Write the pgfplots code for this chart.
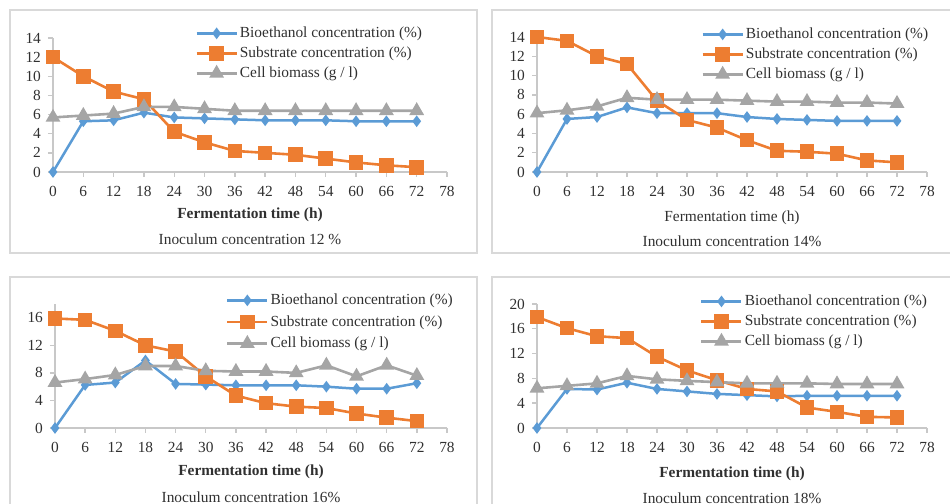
\documentclass[border=0pt]{standalone}
\usepackage{fontspec}
\setmainfont{Liberation Serif}
\usepackage{pgfplots}
\usepackage{pgfplotstable}
\pgfplotsset{compat=1.18}
\definecolor{cblue}{HTML}{5B9BD5}
\definecolor{corange}{HTML}{ED7D31}
\definecolor{cgray}{HTML}{A5A5A5}
\definecolor{axgray}{HTML}{C8C8C8}
\definecolor{frgray}{HTML}{D9D9D9}
\definecolor{txt}{HTML}{303030}

\pgfplotstableread{
t bio sub cell
0 0 12.0 5.7
6 5.3 10.0 5.9
12 5.4 8.4 6.1
18 6.2 7.6 6.8
24 5.7 4.2 6.8
30 5.6 3.1 6.6
36 5.5 2.2 6.4
42 5.4 2.0 6.4
48 5.4 1.8 6.4
54 5.4 1.4 6.4
60 5.3 1.0 6.4
66 5.3 0.7 6.4
72 5.3 0.5 6.4
}\tabA
\pgfplotstableread{
t bio sub cell
0 0 14.0 6.1
6 5.5 13.6 6.4
12 5.7 12.0 6.8
18 6.7 11.2 7.7
24 6.1 7.4 7.5
30 6.1 5.4 7.5
36 6.1 4.6 7.5
42 5.7 3.3 7.4
48 5.5 2.2 7.3
54 5.4 2.1 7.3
60 5.3 1.9 7.2
66 5.3 1.2 7.2
72 5.3 1.0 7.1
}\tabB
\pgfplotstableread{
t bio sub cell
0 0 15.9 6.6
6 6.25 15.7 7.1
12 6.6 14.1 7.7
18 9.8 12.0 9.0
24 6.4 11.1 9.0
30 6.3 7.5 8.3
36 6.2 4.7 8.2
42 6.2 3.6 8.2
48 6.2 3.1 8.0
54 6.0 2.9 9.1
60 5.7 2.1 7.5
66 5.7 1.5 9.1
72 6.5 1.0 7.6
}\tabC
\pgfplotstableread{
t bio sub cell
0 0 17.9 6.4
6 6.3 16.1 6.8
12 6.2 14.8 7.2
18 7.3 14.5 8.4
24 6.3 11.5 7.85
30 5.9 9.3 7.6
36 5.5 7.7 7.4
42 5.3 6.3 7.2
48 5.1 5.9 7.2
54 5.2 3.3 7.2
60 5.2 2.6 7.1
66 5.2 1.8 7.1
72 5.2 1.7 7.1
}\tabD

\newcommand{\fs}{\fontsize{7.7}{9}\selectfont}

\pgfplotsset{
 panel/.style={
  scale only axis, clip=false,
  axis lines=left, axis line style={axgray, line width=0.7pt, -},
  xmin=0, xmax=78, ymin=0,
  xtick={0,6,...,78},
  tick style={axgray, line width=0.7pt}, major tick length=2.5pt, tick align=outside,
  tick label style={font=\fs, text=txt},
  xticklabel style={yshift=-1pt},
  /pgf/number format/assume math mode=true,
  legend style={draw=none, fill=none, font=\fs, text=txt, anchor=north west,
    nodes={text height=6pt, text depth=2pt, inner sep=1pt}},
  legend cell align=left,
  legend image code/.code={\draw[mark repeat=2,mark phase=2,##1] plot coordinates {(0pt,0pt) (10pt,0pt) (20pt,0pt)};},
 },
 bio/.style={cblue, line width=1.25pt, mark=diamond*, mark size=1.9pt, mark options={solid}},
 sub/.style={corange, line width=1.3pt, mark=square*, mark size=3pt, mark options={solid}},
 cell/.style={cgray, line width=1.3pt, mark=triangle*, mark size=3pt, mark options={solid}},
}

\begin{document}
\begin{tikzpicture}[x=1pt,y=1pt]
\useasboundingbox (0,0) rectangle (475,252);
\clip (0,0) rectangle (475,252);
% frames
\draw[frgray, line width=0.9pt] (5,247) rectangle (238.5,125.5);
\draw[frgray, line width=0.9pt] (246,247) rectangle (480,125.5);
\draw[frgray, line width=0.9pt] (5,113.5) rectangle (238.5,-8);
\draw[frgray, line width=0.9pt] (246,113.5) rectangle (480,-8);

% Panel 1
\begin{axis}[panel, at={(26.5pt,166pt)}, anchor=south west, width=197pt, height=67pt,
  ymax=14, ytick={0,2,...,14},
  legend style={at={(0.345,1.142)}}]
\addplot[bio] table[x=t,y=bio] {\tabA};
\addplot[sub] table[x=t,y=sub] {\tabA};
\addplot[cell] table[x=t,y=cell] {\tabA};
\legend{Bioethanol concentration (\%), Substrate concentration (\%), Cell biomass (g / l)}
\node[font=\fs\bfseries, text=txt] at (rel axis cs:0.5,0) [yshift=-21.5pt] {Fermentation time (h)};
\node[font=\fs, text=txt] at (rel axis cs:0.5,0) [yshift=-33.5pt] {Inoculum concentration 12 \%};
\end{axis}

% Panel 2
\begin{axis}[panel, at={(268.5pt,166pt)}, anchor=south west, width=195pt, height=67.5pt,
  ymax=14, ytick={0,2,...,14},
  legend style={at={(0.405,1.126)}}]
\addplot[bio] table[x=t,y=bio] {\tabB};
\addplot[sub] table[x=t,y=sub] {\tabB};
\addplot[cell] table[x=t,y=cell] {\tabB};
\legend{Bioethanol concentration (\%), Substrate concentration (\%), Cell biomass (g / l)}
\node[font=\fs, text=txt] at (rel axis cs:0.5,0) [yshift=-23pt] {Fermentation time (h)};
\node[font=\fs, text=txt] at (rel axis cs:0.5,0) [yshift=-34.5pt] {Inoculum concentration 14\%};
\end{axis}

% Panel 3
\begin{axis}[panel, at={(27.5pt,38pt)}, anchor=south west, width=196pt, height=62pt,
  ymax=18, ytick={0,4,...,16},
  legend style={at={(0.42,1.152)}, nodes={text height=6.5pt, text depth=2.3pt}}]
\addplot[bio] table[x=t,y=bio] {\tabC};
\addplot[sub] table[x=t,y=sub] {\tabC};
\addplot[cell] table[x=t,y=cell] {\tabC};
\legend{Bioethanol concentration (\%), Substrate concentration (\%), Cell biomass (g / l)}
\node[font=\fs\bfseries, text=txt] at (rel axis cs:0.5,0) [yshift=-22pt] {Fermentation time (h)};
\node[font=\fs, text=txt] at (rel axis cs:0.5,0) [yshift=-34.5pt] {Inoculum concentration 16\%};
\end{axis}

% Panel 4
\begin{axis}[panel, at={(268.5pt,38pt)}, anchor=south west, width=195pt, height=62pt,
  ymax=20, ytick={0,4,...,20},
  legend style={at={(0.402,1.137)}}]
\addplot[bio] table[x=t,y=bio] {\tabD};
\addplot[sub] table[x=t,y=sub] {\tabD};
\addplot[cell] table[x=t,y=cell] {\tabD};
\legend{Bioethanol concentration (\%), Substrate concentration (\%), Cell biomass (g / l)}
\node[font=\fs\bfseries, text=txt] at (rel axis cs:0.5,0) [yshift=-23pt] {Fermentation time (h)};
\node[font=\fs, text=txt] at (rel axis cs:0.5,0) [yshift=-35pt] {Inoculum concentration 18\%};
\end{axis}
\end{tikzpicture}
\end{document}
